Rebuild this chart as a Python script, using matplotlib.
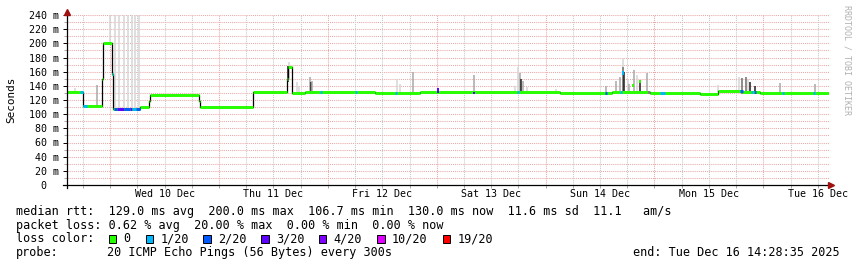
import numpy as np
import matplotlib.pyplot as plt
from matplotlib.patches import Rectangle

plt.rcParams['font.family'] = 'DejaVu Sans Mono'

W, H = 857, 267

# time axis: hours since Tue 9 Dec 14:28:35, 7 days shown
span_h = 168
first_midnight = 9.52
day_labels = ['Wed 10 Dec', 'Thu 11 Dec', 'Fri 12 Dec', 'Sat 13 Dec',
              'Sun 14 Dec', 'Mon 15 Dec', 'Tue 16 Dec']

# median rtt as steps (hour where the step starts, value in ms)
step_h = [0, 3.5, 7.8, 8.0, 10.0, 10.2, 16.0, 18.0, 18.2, 29.2, 29.4, 41.1,
          48.4, 48.7, 49.7, 52.5, 67.9, 77.8, 108.7, 120.2, 128.5, 139.6,
          143.5, 148.8, 152.8]
step_ms = [131, 111.5, 150, 200, 157, 107.5, 109.5, 118, 126.5, 118, 109.5, 130.8,
           150, 167, 130, 130.8, 129.8, 130.6, 130, 131.2, 130, 129,
           132.4, 130.6, 130]

# loss colours along the median (start hour, end hour, loss level)
loss_names = ['0', '1/20', '2/20', '3/20', '4/20', '10/20', '19/20']
loss_colors = ['#26ff00', '#00b8ff', '#0059ff', '#5e00ff', '#7e00ff', '#dd00ff', '#ff0000']
loss_h0 = [2.9, 3.6, 10.0, 10.3, 11.0, 12.6, 13.8, 14.4, 15.3, 48.4, 55.7, 63.5,
           72.3, 99.2, 118.6, 121.9, 128.0, 130.7, 148.4, 150.9, 151.5, 157.6, 164.4]
loss_h1 = [3.5, 4.4, 10.2, 11.0, 12.6, 13.8, 14.4, 15.3, 16.0, 48.6, 56.3, 64.0,
           72.8, 99.6, 119.0, 122.3, 128.3, 131.8, 149.1, 151.3, 151.9, 158.1, 164.9]
loss_lvl = [1, 1, 1, 2, 3, 2, 3, 1, 2, 1, 1, 1,
            1, 1, 2, 1, 5, 1, 2, 1, 2, 1, 1]

# short coloured strokes where the median jumped (hour, low, high, level)
mark_h = [81.7, 89.7, 122.5, 124.8, 126.3]
mark_lo = [130, 128.5, 156, 139, 144]
mark_hi = [137, 132, 161, 143, 148]
mark_lvl = [3, 3, 1, 0, 0]

# smoke: spread of the pings (hour, low, high, shade)
smoke_shades = ['#d6d6d6', '#a8a8a8', '#6e6e6e', '#1e1e1e']
smoke_h = [1.76, 6.61, 9.48, 10.58, 11.57, 12.57, 13.51, 14.26, 15.1, 15.87,
           49.05, 48.83, 50.7, 51.15, 53.57, 53.7, 54.0, 72.75, 73.4, 76.3,
           89.7, 98.8, 99.4, 99.9, 100.1, 100.6, 101.4, 107.8,
           118.8, 121.0, 121.9, 122.6, 122.6, 122.9, 123.7, 123.8, 125.1, 125.7,
           126.3, 127.9, 143.6, 148.2, 148.9, 149.7, 150.2, 150.6, 151.6, 157.2, 164.9]
smoke_lo = [131, 112, 200, 108, 108, 108, 108, 108, 108, 108,
            150, 145, 130, 130, 130, 130, 130, 130, 130, 130,
            130, 130, 130, 130, 133, 130, 130, 130,
            131, 132, 132, 133, 133, 133, 133, 133, 133, 133,
            131, 131, 131, 131, 128, 131, 131, 128, 128, 131, 131]
smoke_hi = [137, 141, 240, 240, 240, 240, 240, 240, 240, 240,
            173, 168, 146, 140, 152, 145, 147, 149, 143, 159,
            155, 140, 167, 158, 150, 147, 138, 136,
            140, 147, 153, 179, 166, 160, 150, 142, 163, 156,
            148, 158, 141, 153, 151, 152, 150, 145, 140, 144, 142]
smoke_shd = [0, 1, 0, 0, 0, 0, 0, 0, 0, 0,
             0, 3, 0, 0, 1, 3, 1, 0, 0, 1,
             1, 0, 0, 1, 3, 1, 0, 0,
             1, 1, 1, 0, 2, 3, 0, 1, 1, 0,
             3, 1, 0, 0, 2, 2, 0, 3, 3, 1, 1]

fig = plt.figure(figsize=(W / 100, H / 100), dpi=100)
ax = fig.add_axes([67 / W, (H - 185) / H, 762 / W, 170 / H])
ax.set_xlim(0, span_h)
ax.set_ylim(0, 240)
for s in ax.spines.values():
    s.set_visible(False)

# grid
dots = (0, (1, 1))
for y in range(10, 250, 10):
    ax.axhline(y, color='#eaa8a8', lw=0.75, ls=dots, zorder=0)
six_h = np.arange(first_midnight - 6, span_h, 6)
for k, h in enumerate(six_h):
    major = (k - 1) % 4 == 0
    ax.axvline(h, color='#eaa8a8' if major else '#c8c8c8', lw=0.75, ls=dots, zorder=0)

# smoke
for h, lo, hi, sh in zip(smoke_h, smoke_lo, smoke_hi, smoke_shd):
    ax.vlines(h, lo, hi, color=smoke_shades[sh], lw=1.1, zorder=2)

# median: thin black steps, thick coloured levels
sx = step_h + [span_h]
sy = step_ms + [step_ms[-1]]
ax.step(sx, sy, where='post', color='black', lw=0.9, zorder=3)
ax.hlines(step_ms, step_h, sx[1:], color=loss_colors[0], lw=2.1, zorder=4)
for h0, h1, lv in zip(loss_h0, loss_h1, loss_lvl):
    i = np.searchsorted(step_h, h0, side='right') - 1
    ax.hlines(step_ms[i], h0, h1, color=loss_colors[lv], lw=2.1, zorder=5)
for h, lo, hi, lv in zip(mark_h, mark_lo, mark_hi, mark_lvl):
    ax.vlines(h, lo, hi, color=loss_colors[lv], lw=1.4, zorder=5)

# axes lines with arrows
ax.plot([-4 / 762, 1 + 2 / 762], [0, 0], transform=ax.transAxes, color='black',
        lw=0.9, clip_on=False, zorder=6)
ax.plot([0, 0], [-3 / 170, 1 + 2 / 170], transform=ax.transAxes, color='black',
        lw=0.9, clip_on=False, zorder=6)
ax.plot(1 + 2.5 / 762, 0, marker='>', ms=4, color='#a01010', transform=ax.transAxes,
        clip_on=False, zorder=7)
ax.plot(0, 1 + 3.5 / 170, marker='^', ms=4, color='#a01010', transform=ax.transAxes,
        clip_on=False, zorder=7)

# ticks
yt = list(range(0, 241, 20))
ax.set_yticks(yt)
ax.set_yticklabels(['0  ' if v == 0 else f'{v} m' for v in yt], fontsize=7.2)
ax.set_yticks(range(10, 240, 20), minor=True)
ax.tick_params(axis='y', which='major', length=3, width=0.7, pad=2.6)
ax.tick_params(axis='y', which='minor', length=2, width=0.6, color='#999999')
noon = [first_midnight + 12 + 24 * k for k in range(7)]
ax.set_xticks(noon)
ax.set_xticklabels(day_labels, fontsize=7.2)
ax.set_xticks(six_h[six_h > 0], minor=True)
ax.xaxis.remove_overlapping_locs = False
ax.tick_params(axis='x', which='major', length=0, pad=3.2)
ax.tick_params(axis='x', which='minor', length=2.5, width=0.6, color='#999999')

fig.text(11 / W, 1 - 100 / H, 'Seconds', rotation=90, fontsize=7.9,
         ha='center', va='center')
fig.text(846.5 / W, 1 - 5 / H, 'RRDTOOL / TOBI OETIKER', rotation=270, fontsize=6.0,
         color='#b0b0b0', ha='center', va='top')


def put(x, y, s, ha='left'):
    fig.text(x / W, 1 - y / H, s, fontsize=8.5, ha=ha, va='center')


put(16, 211.7, 'median rtt:  129.0 ms avg  200.0 ms max  106.7 ms min  '
               '130.0 ms now  11.6 ms sd  11.1   am/s')
put(16, 225.2, 'packet loss: 0.62 % avg  20.00 % max  0.00 % min  0.00 % now')

put(16, 239.0, 'loss color:')
sq_x = [108.7, 146, 203.3, 261.3, 319, 377.3, 442.7]
txt_x = [123.3, 160.7, 218, 276, 333.3, 391.7, 457.3]
for i in range(7):
    fig.add_artist(Rectangle((sq_x[i] / W, 1 - 242.7 / H), 7.3 / W, 7.7 / H,
                             transform=fig.transFigure, facecolor=loss_colors[i],
                             edgecolor='black', lw=0.7))
    put(txt_x[i], 239.0, loss_names[i])

put(16, 252.7, 'probe:')
put(107.3, 252.7, '20 ICMP Echo Pings (56 Bytes) every 300s')
put(840, 252.7, 'end: Tue Dec 16 14:28:35 2025', ha='right')

fig.savefig('out.png', dpi=100)
